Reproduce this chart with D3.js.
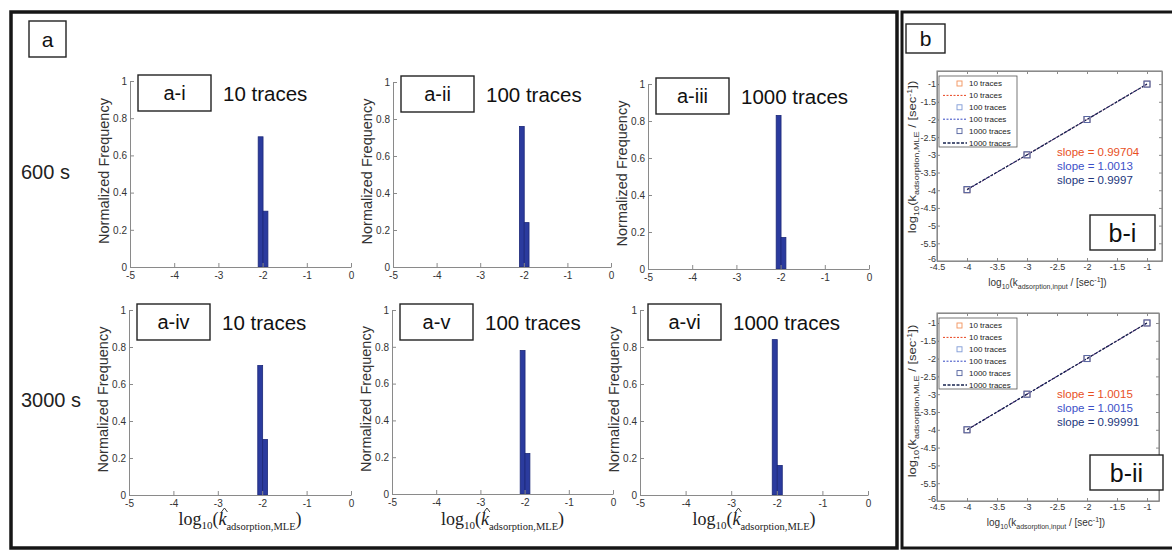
<!DOCTYPE html>
<html>
<head>
<meta charset="utf-8">
<script src="https://cdn.jsdelivr.net/npm/d3@7"></script>
<style>
body { margin: 0; background: #fff; }
svg { display: block; font-family: "Liberation Sans", Arial, sans-serif; }
.tick text { fill: #333; }
</style>
</head>
<body>
<div id="chart"></div>
<script>
// ---- panel a : histograms of the MLE estimate ----
var panelNames = ["a-i", "a-ii", "a-iii", "a-iv", "a-v", "a-vi"];
var traceNames = ["10 traces", "100 traces", "1000 traces", "10 traces", "100 traces", "1000 traces"];
var rowNames = ["600 s", "3000 s"];
var binEdges = [-2.1, -1.99, -1.88];
var freqAi = [0.70, 0.30];
var freqAii = [0.76, 0.24];
var freqAiii = [0.83, 0.17];
var freqAiv = [0.70, 0.30];
var freqAv = [0.78, 0.22];
var freqAvi = [0.84, 0.16];
var histXTicks = [-5, -4, -3, -2, -1, 0];
var histYTicks = [0, 0.2, 0.4, 0.6, 0.8, 1];

// ---- panel b : MLE vs input rate ----
var kInput = [-4, -3, -2, -1];
var mleBi10 = [-3.99, -3.0, -2.0, -1.0];
var mleBi100 = [-3.99, -3.0, -2.0, -1.0];
var mleBi1000 = [-3.98, -3.0, -2.0, -1.0];
var mleBii10 = [-4.0, -3.0, -2.0, -1.0];
var mleBii100 = [-4.0, -3.0, -2.0, -1.0];
var mleBii1000 = [-4.0, -3.0, -2.0, -1.0];
var slopesBi = ["0.99704", "1.0013", "0.9997"];
var slopesBii = ["1.0015", "1.0015", "0.99991"];
var seriesNames = ["10 traces", "100 traces", "1000 traces"];
var fitXTicks = [-4.5, -4, -3.5, -3, -2.5, -2, -1.5, -1];
var fitYTicks = [-6, -5.5, -5, -4.5, -4, -3.5, -3, -2.5, -2, -1.5, -1];

var histFreqs = [freqAi, freqAii, freqAiii, freqAiv, freqAv, freqAvi];

// pixel layout of every axes box
var histBoxes = [
  {x0: 130, x1: 351, top: 81, bot: 267},
  {x0: 393, x1: 611, top: 82, bot: 267},
  {x0: 648, x1: 869, top: 84, bot: 269},
  {x0: 129, x1: 351, top: 310, bot: 495},
  {x0: 392, x1: 613, top: 310, bot: 494},
  {x0: 640, x1: 868, top: 310, bot: 495}
];
var fitBoxes = [
  {x0: 937, x1: 1162, top: 71, bot: 261, xMax: -0.75, yMax: -0.63, tagW: 65, label: "b-i", ylabY: 157},
  {x0: 937, x1: 1159, top: 313, bot: 501, xMax: -0.8, yMax: -0.72, tagW: 73, label: "b-ii", ylabY: 401}
];

var W = 1172, H = 552;
var svg = d3.select("#chart").append("svg").attr("width", W).attr("height", H);
svg.append("rect").attr("width", W).attr("height", H).attr("fill", "#fff");

// frames
svg.append("rect").attr("x", 11).attr("y", 12).attr("width", 886).attr("height", 536)
  .attr("fill", "none").attr("stroke", "#161616").attr("stroke-width", 3.5);
svg.append("rect").attr("x", 902).attr("y", 12).attr("width", 290).attr("height", 536)
  .attr("fill", "none").attr("stroke", "#161616").attr("stroke-width", 3);

function tagBox(x, y, w, h, label, size) {
  svg.append("rect").attr("x", x).attr("y", y).attr("width", w).attr("height", h)
    .attr("fill", "#fff").attr("stroke", "#222").attr("stroke-width", 1.4);
  svg.append("text").attr("x", x + w / 2).attr("y", y + h / 2).attr("dy", "0.36em")
    .attr("text-anchor", "middle").attr("font-size", size).attr("fill", "#111").text(label);
}

tagBox(29, 21, 37, 36, "a", 21);
tagBox(906, 24, 39, 29, "b", 21);

svg.selectAll("text.row").data(rowNames).enter().append("text")
  .attr("class", "row")
  .attr("x", 21)
  .attr("y", function(d, i) { return i === 0 ? 179 : 407; })
  .attr("font-size", 20).attr("fill", "#222")
  .text(function(d) { return d; });

function styleAxis(g) {
  g.selectAll(".domain").attr("stroke", "#8a8a8a");
  g.selectAll(".tick line").attr("stroke", "#8a8a8a");
  g.selectAll(".tick text").attr("font-size", 10).attr("font-family", "Liberation Sans, Arial, sans-serif");
}

histBoxes.forEach(function(b, i) {
  var x = d3.scaleLinear().domain([-5, 0]).range([b.x0, b.x1]);
  var y = d3.scaleLinear().domain([0, 1]).range([b.bot, b.top]);
  var g = svg.append("g");

  g.selectAll("rect.bar").data(histFreqs[i]).enter().append("rect")
    .attr("class", "bar")
    .attr("x", function(d, j) { return x(binEdges[j]); })
    .attr("width", function(d, j) { return x(binEdges[j + 1]) - x(binEdges[j]); })
    .attr("y", function(d) { return y(d); })
    .attr("height", function(d) { return y(0) - y(d); })
    .attr("fill", "#2b3b9e").attr("stroke", "#1c2878").attr("stroke-width", 0.8);

  g.append("g").attr("transform", "translate(0," + b.bot + ")")
    .call(d3.axisBottom(x).tickValues(histXTicks).tickSizeInner(-4).tickSizeOuter(0)
      .tickPadding(5).tickFormat(function(d) { return String(d); }))
    .call(styleAxis);
  g.append("g").attr("transform", "translate(" + b.x0 + ",0)")
    .call(d3.axisLeft(y).tickValues(histYTicks).tickSizeInner(-4).tickSizeOuter(0)
      .tickPadding(3).tickFormat(function(d) { return String(d); }))
    .call(styleAxis);

  g.append("text")
    .attr("transform", "translate(" + (b.x0 - 21) + "," + ((b.top + b.bot) / 2 - 3) + ") rotate(-90)")
    .attr("text-anchor", "middle").attr("font-size", 14.5).attr("fill", "#333")
    .text("Normalized Frequency");

  tagBox(b.x0 + 8, b.top - 6, 73, 36, panelNames[i], 20);
  g.append("text").attr("x", b.x0 + 93).attr("y", b.top + 20)
    .attr("font-size", 20.5).attr("fill", "#111").text(traceNames[i]);

  if (i >= 3) {
    var lab = g.append("text").attr("x", (b.x0 + b.x1) / 2).attr("y", 525)
      .attr("text-anchor", "middle").attr("fill", "#222")
      .style("font-family", "Liberation Serif, Times New Roman, serif")
      .style("white-space", "pre");
    lab.append("tspan").attr("font-size", 18).text("log");
    lab.append("tspan").attr("font-size", 11).attr("dy", 4).text("10");
    lab.append("tspan").attr("font-size", 18).attr("dy", -4).text("(");
    lab.append("tspan").attr("font-size", 18).attr("font-style", "italic").text("k");
    lab.append("tspan").attr("font-size", 10.5).attr("dy", 5).text("adsorption,MLE");
    lab.append("tspan").attr("font-size", 18).attr("dy", -5).text(")");
    // hat over the k
    var p = lab.node().getStartPositionOfChar(6);
    var cx = p.x + 6;
    g.append("path").attr("d", "M" + (cx - 3) + ",512 L" + cx + ",508 L" + (cx + 3) + ",512")
      .attr("fill", "none").attr("stroke", "#222").attr("stroke-width", 0.9);
  }
});

// ---- panel b ----
var seriesStyle = [
  {marker: "#f2925c", line: "#e8451f", text: "#e8501e", dash: "2,1.5", width: 1},
  {marker: "#7f9ad6", line: "#3447c2", text: "#3c50c8", dash: "2,1.5", width: 1},
  {marker: "#53629e", line: "#17234f", text: "#22367c", dash: "3,1.5", width: 1.3}
];
var fitData = [
  {series: [mleBi10, mleBi100, mleBi1000], slopes: slopesBi},
  {series: [mleBii10, mleBii100, mleBii1000], slopes: slopesBii}
];

function bLabel(parent, attrs, sub) {
  var t = parent.append("text").attr("fill", "#333").style("white-space", "pre");
  Object.keys(attrs).forEach(function(k) { t.attr(k, attrs[k]); });
  t.append("tspan").attr("font-size", 10).text("log");
  t.append("tspan").attr("font-size", 7).attr("dy", 3).text("10");
  t.append("tspan").attr("font-size", 10).attr("dy", -3).text("(k");
  t.append("tspan").attr("font-size", 7).attr("dy", 3).text(sub);
  t.append("tspan").attr("font-size", 10).attr("dy", -3).text(" / [sec");
  t.append("tspan").attr("font-size", 7).attr("dy", -4).text("-1");
  t.append("tspan").attr("font-size", 10).attr("dy", 4).text("])");
  return t;
}

fitBoxes.forEach(function(b, i) {
  var x = d3.scaleLinear().domain([-4.5, b.xMax]).range([b.x0, b.x1]);
  var y = d3.scaleLinear().domain([-6, b.yMax]).range([b.bot, b.top]);
  var g = svg.append("g");
  var fmt = function(d) { return String(d); };

  g.append("rect").attr("x", b.x0).attr("y", b.top).attr("width", b.x1 - b.x0).attr("height", b.bot - b.top)
    .attr("fill", "#fff").attr("stroke", "#777").attr("stroke-width", 1);

  g.append("g").attr("transform", "translate(0," + b.bot + ")")
    .call(d3.axisBottom(x).tickValues(fitXTicks).tickSizeInner(-3).tickSizeOuter(0).tickPadding(3).tickFormat(fmt))
    .call(styleAxis);
  g.append("g").attr("transform", "translate(0," + b.top + ")")
    .call(d3.axisTop(x).tickValues(fitXTicks).tickSizeInner(-3).tickSizeOuter(0).tickFormat(""))
    .call(styleAxis);
  var yAx = g.append("g").attr("transform", "translate(" + b.x0 + ",0)")
    .call(d3.axisLeft(y).tickValues(fitYTicks).tickSizeInner(-3).tickSizeOuter(0).tickPadding(1).tickFormat(fmt))
    .call(styleAxis);
  g.append("g").attr("transform", "translate(" + b.x1 + ",0)")
    .call(d3.axisRight(y).tickValues(fitYTicks).tickSizeInner(-3).tickSizeOuter(0).tickFormat(""))
    .call(styleAxis);
  g.selectAll(".tick text").attr("font-size", 9);
  // lift the lowest y label a little so it clears the "-4.5" below it
  yAx.selectAll(".tick text").filter(function(d) { return d === -6; }).attr("dy", "0.05em");

  var line = d3.line().x(function(d, j) { return x(kInput[j]); }).y(function(d) { return y(d); });
  fitData[i].series.forEach(function(s, k) {
    g.append("path").datum(s).attr("d", line).attr("fill", "none")
      .attr("stroke", seriesStyle[k].line).attr("stroke-width", seriesStyle[k].width)
      .attr("stroke-dasharray", seriesStyle[k].dash);
  });
  fitData[i].series.forEach(function(s, k) {
    g.selectAll("rect.m" + k).data(s).enter().append("rect")
      .attr("class", "m" + k)
      .attr("x", function(d, j) { return x(kInput[j]) - 3; })
      .attr("y", function(d) { return y(d) - 3; })
      .attr("width", 6).attr("height", 6)
      .attr("fill", "none").attr("stroke", seriesStyle[k].marker).attr("stroke-width", 0.9);
  });

  // legend
  var lg = g.append("g").attr("transform", "translate(" + (b.x0 + 2) + "," + (b.top + 5) + ")");
  lg.append("rect").attr("width", 78).attr("height", 71).attr("fill", "#fff").attr("stroke", "#555").attr("stroke-width", 0.8);
  seriesNames.forEach(function(name, k) {
    var ym = 7.5 + k * 23.8, yl = ym + 11.9;
    lg.append("rect").attr("x", 18).attr("y", ym - 2.5).attr("width", 5).attr("height", 5)
      .attr("fill", "none").attr("stroke", seriesStyle[k].marker).attr("stroke-width", 0.9);
    lg.append("line").attr("x1", 4).attr("x2", 28).attr("y1", yl).attr("y2", yl)
      .attr("stroke", seriesStyle[k].line).attr("stroke-width", seriesStyle[k].width)
      .attr("stroke-dasharray", seriesStyle[k].dash);
    [ym, yl].forEach(function(yy) {
      lg.append("text").attr("x", 30).attr("y", yy).attr("dy", "0.35em")
        .attr("font-size", 8).attr("fill", "#222").text(name);
    });
  });

  // slopes
  fitData[i].slopes.forEach(function(s, k) {
    g.append("text").attr("x", b.x0 + 120).attr("y", b.top + 85 + k * 14)
      .attr("font-size", 11.5).attr("fill", seriesStyle[k].text)
      .text("slope = " + s);
  });

  tagBox(b.x0 + 153, b.bot - 46, b.tagW, 35, b.label, 25);

  bLabel(g, {x: (b.x0 + b.x1) / 2 - 2, y: b.bot + 25, "text-anchor": "middle"}, "adsorption,input");
  bLabel(g, {transform: "translate(916," + b.ylabY + ") rotate(-90) scale(1.3,1)", "text-anchor": "middle"}, "adsorption,MLE");
});
</script>
</body>
</html>
